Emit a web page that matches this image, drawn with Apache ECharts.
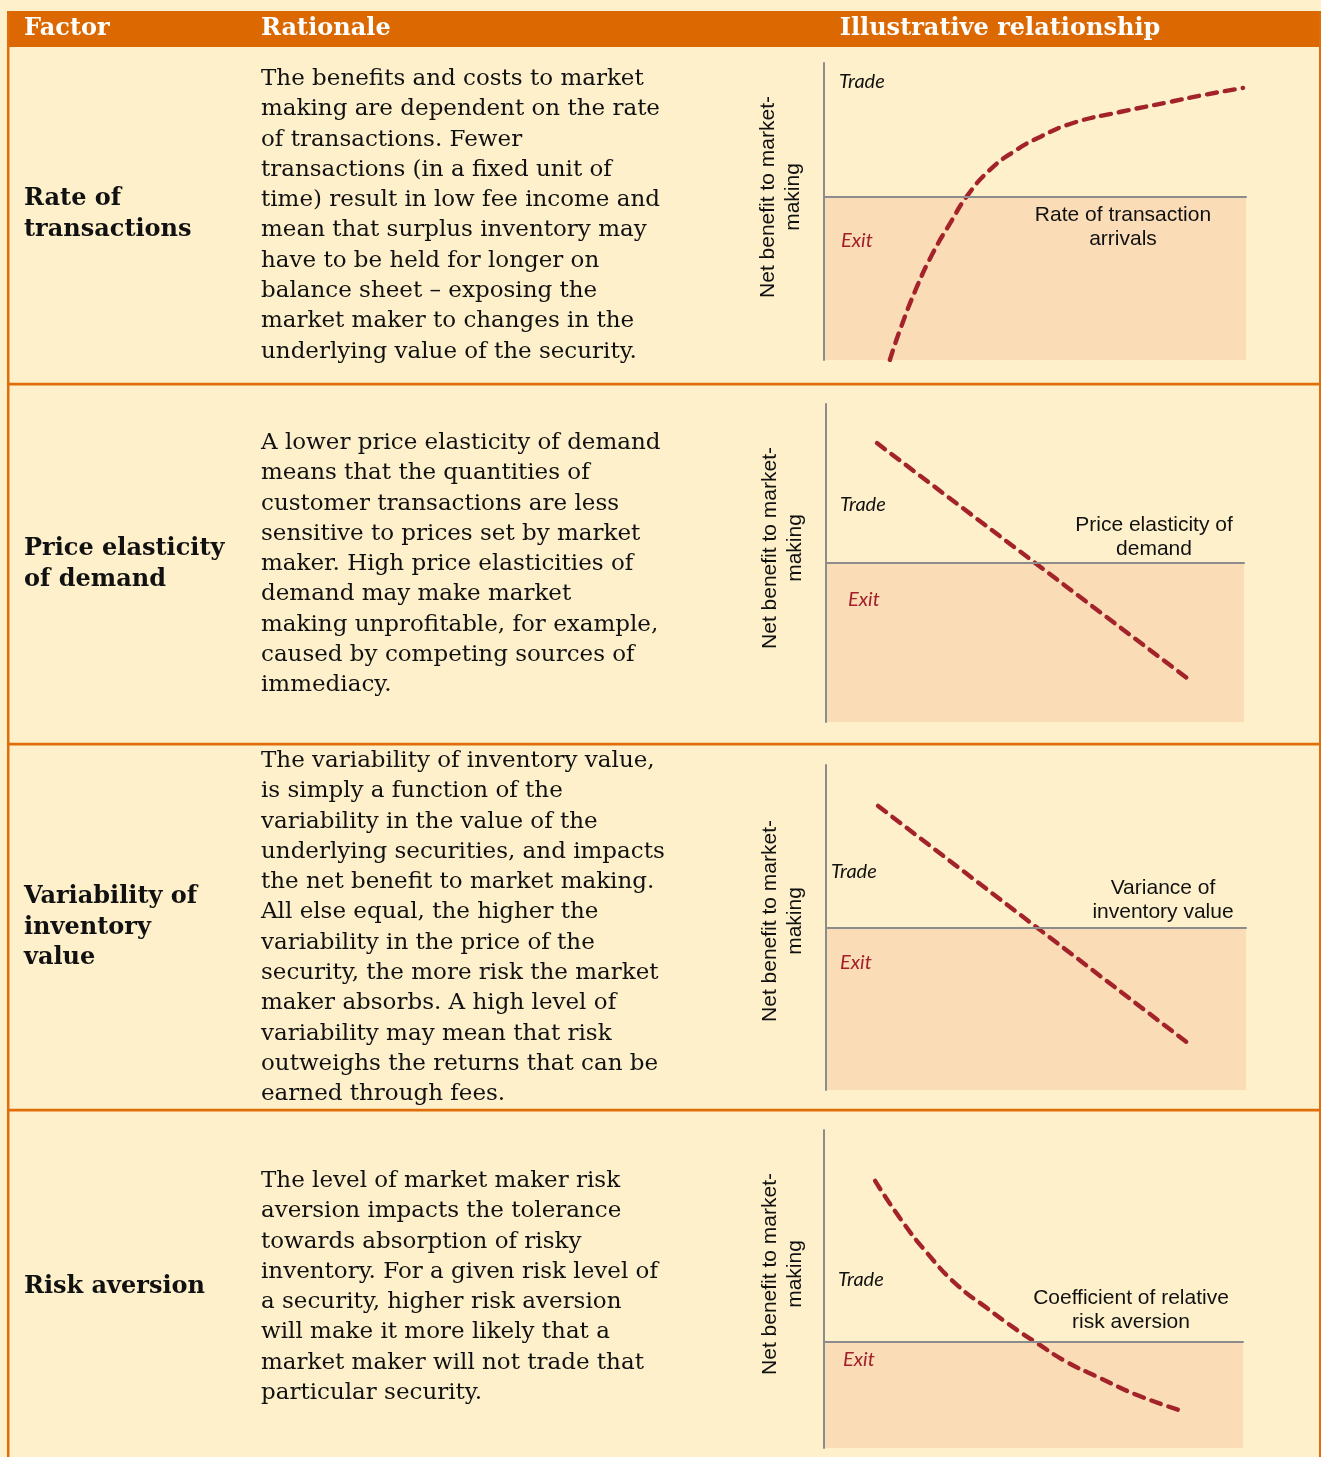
<!DOCTYPE html>
<html>
<head>
<meta charset="utf-8">
<script src="https://cdn.jsdelivr.net/npm/echarts@6/dist/echarts.min.js"></script>
<style>
html,body{margin:0;padding:0;background:#FEF0CB;}
#c{width:1321px;height:1457px;}
</style>
</head>
<body>
<div id="c"></div>
<script>
// ---------- data ----------
const headers = ['Factor', 'Rationale', 'Illustrative relationship'];
const factors = [
  ['Rate of', 'transactions'],
  ['Price elasticity', 'of demand'],
  ['Variability of', 'inventory', 'value'],
  ['Risk aversion']
];
const rationale1 = [
  'The benefits and costs to market',
  'making are dependent on the rate',
  'of transactions. Fewer',
  'transactions (in a fixed unit of',
  'time) result in low fee income and',
  'mean that surplus inventory may',
  'have to be held for longer on',
  'balance sheet \u2013 exposing the',
  'market maker to changes in the',
  'underlying value of the security.'
];
const rationale2 = [
  'A lower price elasticity of demand',
  'means that the quantities of',
  'customer transactions are less',
  'sensitive to prices set by market',
  'maker. High price elasticities of',
  'demand may make market',
  'making unprofitable, for example,',
  'caused by competing sources of',
  'immediacy.'
];
const rationale3 = [
  'The variability of inventory value,',
  'is simply a function of the',
  'variability in the value of the',
  'underlying securities, and impacts',
  'the net benefit to market making.',
  'All else equal, the higher the',
  'variability in the price of the',
  'security, the more risk the market',
  'maker absorbs. A high level of',
  'variability may mean that risk',
  'outweighs the returns that can be',
  'earned through fees.'
];
const rationale4 = [
  'The level of market maker risk',
  'aversion impacts the tolerance',
  'towards absorption of risky',
  'inventory. For a given risk level of',
  'a security, higher risk aversion',
  'will make it more likely that a',
  'market maker will not trade that',
  'particular security.'
];
const yAxisTitle = 'Net benefit to market-\nmaking';
const xLabels = [
  'Rate of transaction\narrivals',
  'Price elasticity of\ndemand',
  'Variance of\ninventory value',
  'Coefficient of relative\nrisk aversion'
];
const tradeLabel = 'Trade';
const exitLabel = 'Exit';

// y ranges for each mini chart (x range is 0..100)
const yMin = [-55, -50, -50, -20];
const yMax = [45, 50, 50, 40];

// curves (x, net benefit)
const curve1 = [[15.6,-55],[18.0,-44.9],[22.0,-30.4],[25.8,-19.0],[29.9,-8.9],[34.1,0.6],[39.3,9.0],[44.8,15.0],[51.2,20.1],[59.0,24.8],[70.1,28.5],[82.0,31.9],[89.8,34.2],[99.3,36.6]];
const curve2 = [[12.2,37.7],[87.3,-37.1]];
const curve3 = [[12.4,37.4],[86.4,-35.8]];
const curve4 = [[12.2,30.4],[18.1,23.4],[24.6,16.8],[31.7,10.8],[38.9,6.4],[45.1,2.8],[50.8,-0.2],[58.0,-3.8],[65.9,-6.8],[74.7,-10.0],[85.4,-13.0]];
const curves = [curve1, curve2, curve3, curve4];

// ---------- layout ----------
const grids = [
  {left:824, top:63,  width:422, height:297},
  {left:826, top:404, width:418, height:318},
  {left:826, top:765, width:420, height:325},
  {left:824, top:1130, width:419, height:318}
];
const rationaleFirst = [79, 443, 761, 1181];
const factorFirst = [199, 549, 897, 1287];
const yTitleCenter = [[781,197],[783,548],[783,921],[783,1274]];
const xLabelPos = [[1123,227],[1154,537],[1163,900],[1131,1310]];
const tradePos = [[839,82],[840,505],[831,872],[838,1280]];
const exitPos = [[841,241],[848,600],[840,963],[843,1360]];

const ORANGE = '#DB6800';
const LINE_ORANGE = '#E06C0A';
const SERIF = '"DejaVu Serif", Georgia, serif';
const SANS = '"Liberation Sans", Arial, sans-serif';
const ITAL = 'italic 20px Lato, "Open Sans", sans-serif';
const LH = 30.3;

const graphics = [];
// header
graphics.push({type:'rect', shape:{x:7,y:11,width:1314,height:36}, style:{fill:ORANGE}, z:1});
graphics.push({type:'text', style:{text:headers[0], x:24, y:29, fill:'#fff', font:'bold 24px '+SERIF, textVerticalAlign:'middle'}, z:2});
graphics.push({type:'text', style:{text:headers[1], x:261, y:29, fill:'#fff', font:'bold 24px '+SERIF, textVerticalAlign:'middle'}, z:2});
graphics.push({type:'text', style:{text:headers[2], x:1000, y:29, fill:'#fff', font:'bold 24px '+SERIF, textAlign:'center', textVerticalAlign:'middle'}, z:2});
// borders
graphics.push({type:'rect', shape:{x:7,y:11,width:2.5,height:1446}, style:{fill:LINE_ORANGE}, z:1});
graphics.push({type:'rect', shape:{x:1319,y:11,width:2,height:1446}, style:{fill:LINE_ORANGE}, z:1});
[384, 744, 1110].forEach(y => {
  graphics.push({type:'rect', shape:{x:7,y:y-1.3,width:1314,height:2.7}, style:{fill:LINE_ORANGE}, z:1});
});
const rationales = [rationale1, rationale2, rationale3, rationale4];
rationales.forEach((lines, i) => {
  graphics.push({type:'text', style:{text:lines.join('\n'), x:261, y:rationaleFirst[i]-LH/2, lineHeight:LH, fill:'#111', font:'23px '+SERIF, textVerticalAlign:'top'}, z:2});
  graphics.push({type:'text', style:{text:factors[i].join('\n'), x:24, y:factorFirst[i]-LH/2, lineHeight:LH, fill:'#111', font:'bold 24px '+SERIF, textVerticalAlign:'top'}, z:2});
  graphics.push({type:'text', x:yTitleCenter[i][0], y:yTitleCenter[i][1], rotation:Math.PI/2,
    style:{text:yAxisTitle, x:0, y:0, lineHeight:25, fill:'#111', font:'21px '+SANS, textAlign:'center', textVerticalAlign:'middle'}, z:5});
  graphics.push({type:'text', style:{text:xLabels[i], x:xLabelPos[i][0], y:xLabelPos[i][1], lineHeight:24, fill:'#111', font:'21px '+SANS, textAlign:'center', textVerticalAlign:'middle'}, z:5});
  graphics.push({type:'text', style:{text:tradeLabel, x:tradePos[i][0], y:tradePos[i][1], fill:'#111', font:ITAL, textVerticalAlign:'middle'}, z:5});
  graphics.push({type:'text', style:{text:exitLabel, x:exitPos[i][0], y:exitPos[i][1], fill:'#A3202A', font:ITAL, textVerticalAlign:'middle'}, z:5});
});

const xAxes = grids.map((g, i) => ({
  type:'value', gridIndex:i, min:0, max:100, z:10,
  axisLine:{show:true, onZero:true, lineStyle:{color:'#8C8C8C', width:2}},
  axisTick:{show:false}, axisLabel:{show:false}, splitLine:{show:false}
}));
const yAxes = grids.map((g, i) => ({
  type:'value', gridIndex:i, min:yMin[i], max:yMax[i], z:10,
  axisLine:{show:true, onZero:true, lineStyle:{color:'#8C8C8C', width:2}},
  axisTick:{show:false}, axisLabel:{show:false}, splitLine:{show:false}
}));
const series = curves.map((c, i) => ({
  type:'line', xAxisIndex:i, yAxisIndex:i, data:c,
  smooth: c.length > 2 ? 0.5 : false,
  showSymbol:false, symbol:'none', z:6,
  lineStyle:{color:'#A3232A', width:4.4, type:[10,8], cap:'round'},
  markArea:{silent:true, itemStyle:{color:'#FADCB7', opacity:1},
    data:[[{coord:[0, yMin[i]]},{coord:[100, 0]}]]}
}));

const chart = echarts.init(document.getElementById('c'), null, {renderer:'canvas'});
chart.setOption({
  backgroundColor:'#FEF0CB',
  animation:false,
  grid: grids,
  xAxis: xAxes,
  yAxis: yAxes,
  series: series,
  graphic: graphics
});
</script>
</body>
</html>
